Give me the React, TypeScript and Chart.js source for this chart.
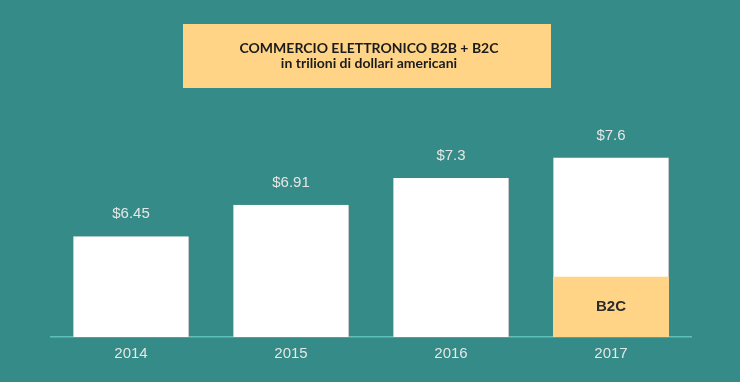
import React, { useEffect, useRef } from "react";
import { Chart, registerables } from "chart.js";

Chart.register(...registerables);

const years = ["2014", "2015", "2016", "2017"];
const totals = [6.45, 6.91, 7.3, 7.6];
const totalLabels = ["$6.45", "$6.91", "$7.3", "$7.6"];
// B2C segment top read on the (non-zero-based) value axis for 2017
const b2cValues = [null, null, null, 5.86];
const b2cLabel = "B2C";
const titleLines = ["COMMERCIO ELETTRONICO B2B + B2C", "in trilioni di dollari americani"];
const axisMin = 4.98;
const axisMax = 8.44;

const BG = "#358b87";
const YELLOW = "#ffd487";

export default function App() {
  const ref = useRef<HTMLCanvasElement | null>(null);

  useEffect(() => {
    document.body.style.margin = "0";
    const canvas = ref.current;
    if (!canvas) return;

    const bgPlugin = {
      id: "bgAndTitle",
      beforeDraw(chart: any) {
        const ctx = chart.ctx;
        ctx.save();
        ctx.fillStyle = BG;
        ctx.fillRect(0, 0, chart.width, chart.height);
        ctx.fillStyle = YELLOW;
        ctx.fillRect(183, 24, 368, 64);
        ctx.fillStyle = "#1b1b1b";
        ctx.textAlign = "center";
        ctx.textBaseline = "middle";
        ctx.font = "bold 14px Lato";
        ctx.fillText(titleLines[0], 369, 48);
        ctx.fillText(titleLines[1], 369, 63);
        ctx.restore();
      },
    };

    const labelPlugin = {
      id: "valueLabels",
      afterDatasetsDraw(chart: any) {
        const ctx = chart.ctx;
        const yScale = chart.scales.y;
        const basePx = yScale.getPixelForValue(axisMin);
        ctx.save();
        ctx.textAlign = "center";
        ctx.textBaseline = "middle";
        const totalMeta = chart.getDatasetMeta(1);
        ctx.fillStyle = "#e6e6e6";
        ctx.font = "15px 'Liberation Sans'";
        totalMeta.data.forEach((el: any, i: number) => {
          ctx.fillText(totalLabels[i], el.x, el.y - 22);
        });
        const b2cMeta = chart.getDatasetMeta(0);
        ctx.fillStyle = "#2b2b2b";
        ctx.font = "bold 15px 'Liberation Sans'";
        b2cValues.forEach((v, i) => {
          if (v == null) return;
          const el: any = b2cMeta.data[i];
          const top = yScale.getPixelForValue(v);
          ctx.fillText(b2cLabel, el.x, (top + basePx) / 2);
        });
        ctx.restore();
      },
    };

    const chart = new Chart(canvas, {
      type: "bar",
      data: {
        labels: years,
        datasets: [
          {
            label: "B2C",
            data: b2cValues as any,
            backgroundColor: YELLOW,
            borderWidth: 0,
            grouped: false,
            barPercentage: 0.725,
            categoryPercentage: 1,
          } as any,
          {
            label: "B2B + B2C",
            data: totals,
            backgroundColor: "#ffffff",
            borderColor: "#c9c9c9",
            borderWidth: { left: 1, right: 1, top: 0, bottom: 0 },
            borderSkipped: false,
            grouped: false,
            barPercentage: 0.725,
            categoryPercentage: 1,
          } as any,
        ],
      },
      options: {
        responsive: false,
        animation: false,
        layout: { padding: { left: 51, right: 49, top: 100, bottom: 11 } },
        plugins: {
          legend: { display: false },
          title: { display: false },
          tooltip: { enabled: false },
        },
        scales: {
          x: {
            grid: { display: false, drawTicks: false },
            border: { display: true, color: "#5cc0ba", width: 1.5 },
            ticks: {
              color: "#e6e6e6",
              font: { family: "'Liberation Sans'", size: 15 },
              padding: 8,
            },
          },
          y: {
            display: false,
            min: axisMin,
            max: axisMax,
          },
        },
      },
      plugins: [bgPlugin, labelPlugin],
    });
    return () => chart.destroy();
  }, []);

  return (
    <div style={{ width: 740, height: 382 }}>
      <canvas ref={ref} width={740} height={382} style={{ display: "block" }} />
    </div>
  );
}
